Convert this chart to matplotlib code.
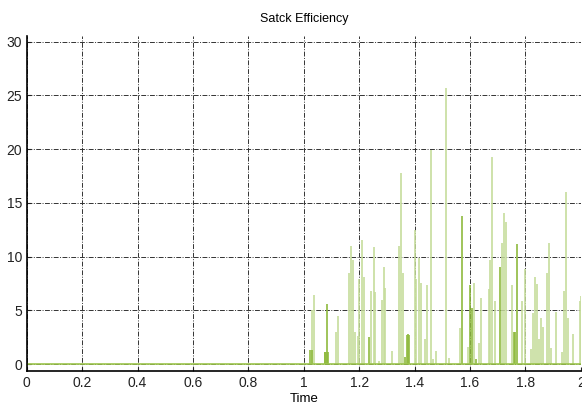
import matplotlib
matplotlib.use("Agg")
import matplotlib.pyplot as plt

plt.rcParams["font.family"] = ["Liberation Sans", "DejaVu Sans"]

# light green spikes (time, efficiency)
light_t = [1.031, 1.038, 1.118, 1.125, 1.162, 1.169, 1.176, 1.183, 1.194, 1.201,
           1.209, 1.216, 1.241, 1.252, 1.256, 1.270, 1.281, 1.289, 1.292, 1.318,
           1.343, 1.350, 1.358, 1.401, 1.405, 1.416, 1.423, 1.437, 1.445, 1.459,
           1.466, 1.477, 1.514, 1.524, 1.564, 1.593, 1.615, 1.633, 1.641, 1.670,
           1.673, 1.681, 1.691, 1.717, 1.724, 1.731, 1.753, 1.789, 1.797, 1.819,
           1.826, 1.833, 1.840, 1.848, 1.855, 1.862, 1.877, 1.884, 1.891, 1.909,
           1.931, 1.938, 1.946, 1.953, 1.971, 1.996, 1.999]
light_h = [5.0, 6.4, 3.0, 4.5, 8.5, 11.0, 9.7, 3.0, 2.6, 7.9,
           11.6, 8.1, 6.8, 10.9, 6.7, 0.3, 6.0, 9.0, 7.1, 1.2,
           11.0, 17.8, 8.5, 12.5, 7.9, 9.9, 7.6, 2.3, 7.4, 19.9,
           0.5, 1.2, 25.7, 0.6, 3.4, 1.6, 7.6, 2.0, 6.2, 7.0,
           9.7, 19.3, 5.9, 11.3, 14.1, 13.2, 7.4, 5.9, 8.9, 1.4,
           4.8, 8.1, 7.5, 2.3, 4.3, 3.5, 8.5, 11.3, 1.5, 4.9,
           1.1, 6.8, 16.0, 4.3, 2.8, 5.9, 6.3]

# darker green spikes
dark_t = [1.024, 1.028, 1.075, 1.078, 1.082, 1.085, 1.088, 1.234, 1.365, 1.372,
          1.375, 1.379, 1.572, 1.601, 1.608, 1.623, 1.710, 1.760, 1.764, 1.768]
dark_h = [1.3, 1.3, 1.1, 1.1, 5.6, 1.1, 1.1, 2.5, 0.7, 2.7,
          2.8, 2.7, 13.8, 7.4, 5.2, 0.5, 9.0, 3.0, 3.0, 11.2]

fig = plt.figure(figsize=(5.82, 4.07), dpi=100)
ax = fig.add_axes([0.046, 0.088, 0.952, 0.824])

ax.vlines(light_t, 0, light_h, color="#c6dd9c", linewidth=1.2)
ax.vlines(dark_t, 0, dark_h, color="#8fba3e", linewidth=1.2)
ax.axhline(0, color="#9cc54c", linewidth=1.2)

ax.set_xlim(0, 2)
ax.set_ylim(-0.65, 30.55)
ax.set_xticks([0, 0.2, 0.4, 0.6, 0.8, 1, 1.2, 1.4, 1.6, 1.8, 2])
ax.set_xticklabels(["0", "0.2", "0.4", "0.6", "0.8", "1", "1.2", "1.4", "1.6", "1.8", "2"])
ax.set_yticks([0, 5, 10, 15, 20, 25, 30])
ax.grid(True, color="#333333", linestyle=(0, (5, 1.5, 1, 1.5)), linewidth=0.7)
ax.set_axisbelow(True)
for s in ["top", "right"]:
    ax.spines[s].set_visible(False)
ax.spines["left"].set_linewidth(1.2)
ax.spines["bottom"].set_linewidth(1.2)
ax.tick_params(direction="in", length=3, labelsize=10, colors="#222222")

ax.set_title("Satck Efficiency", fontsize=9, pad=10)
ax.set_xlabel("Time", fontsize=9.5, labelpad=2)

fig.savefig("out.png", dpi=100)
